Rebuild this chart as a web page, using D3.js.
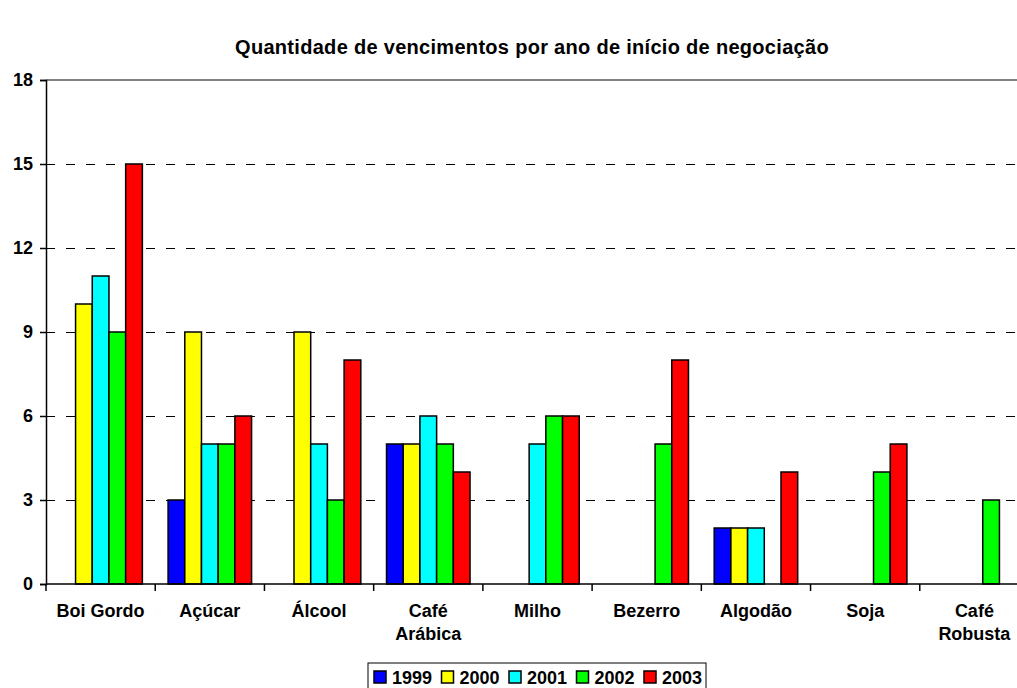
<!DOCTYPE html>
<html>
<head>
<meta charset="utf-8">
<script src="https://cdn.jsdelivr.net/npm/d3@7"></script>
<style>
  body { margin: 0; background: #fff; }
  svg { display: block; font-family: Arial, "Liberation Sans", sans-serif; }
</style>
</head>
<body>
<div id="chart"></div>
<script>
// data
const categories = ['Boi Gordo', 'Açúcar', 'Álcool', 'Café Arábica', 'Milho', 'Bezerro', 'Algodão', 'Soja', 'Café Robusta'];
const years = ['1999', '2000', '2001', '2002', '2003'];
const v1999 = [0, 3, 0, 5, 0, 0, 2, 0, 0];
const v2000 = [10, 9, 9, 5, 0, 0, 2, 0, 0];
const v2001 = [11, 5, 5, 6, 5, 0, 2, 0, 0];
const v2002 = [9, 5, 3, 5, 6, 5, 0, 4, 3];
const v2003 = [15, 6, 8, 4, 6, 8, 4, 5, 0];
const yTicks = [0, 3, 6, 9, 12, 15, 18];
const colors = ['#0000ff', '#ffff00', '#00ffff', '#00ff00', '#ff0000'];

const series = [v1999, v2000, v2001, v2002, v2003];

const width = 1017, height = 688;
const margin = { left: 46, top: 80 };
const plotW = 983, plotH = 504;  // plot runs past the right edge, as in the original

const svg = d3.select('#chart').append('svg')
    .attr('width', width)
    .attr('height', height);

// title
svg.append('text')
    .attr('x', 532)
    .attr('y', 54)
    .attr('text-anchor', 'middle')
    .style('font-size', '20px')
    .style('font-weight', 'bold')
    .style('letter-spacing', '0.3px')
    .text('Quantidade de vencimentos por ano de início de negociação');

const x0 = d3.scaleBand().domain(categories).range([0, plotW]).padding(0);
const x1 = d3.scaleBand().domain(years).range([0, x0.bandwidth()])
    .paddingInner(0).paddingOuter(0.77);
const y = d3.scaleLinear().domain([0, 18]).range([plotH, 0]);

const g = svg.append('g').attr('transform', `translate(${margin.left},${margin.top})`);

// gridlines
g.selectAll('line.grid')
    .data(yTicks.filter(t => t > 0 && t < 18))
    .enter().append('line')
    .attr('class', 'grid')
    .attr('x1', 0).attr('x2', plotW)
    .attr('y1', d => y(d) + 0.5).attr('y2', d => y(d) + 0.5)
    .attr('stroke', '#000')
    .attr('stroke-width', 1)
    .attr('stroke-dasharray', '9,11');

// top border of plot area
g.append('line')
    .attr('x1', 0).attr('x2', plotW)
    .attr('y1', y(18)).attr('y2', y(18))
    .attr('stroke', '#808080')
    .attr('stroke-width', 2);

// bars
const rows = [];
categories.forEach((c, i) => {
    years.forEach((yr, j) => {
        rows.push({ cat: c, year: yr, value: series[j][i], idx: j });
    });
});

g.selectAll('rect.bar')
    .data(rows.filter(d => d.value > 0))
    .enter().append('rect')
    .attr('class', 'bar')
    .attr('x', d => x0(d.cat) + x1(d.year))
    .attr('y', d => y(d.value))
    .attr('width', x1.bandwidth())
    .attr('height', d => y(0) - y(d.value))
    .attr('fill', d => colors[d.idx])
    .attr('stroke', '#000')
    .attr('stroke-width', 1.5);

// y axis
const yAxis = g.append('g')
    .call(d3.axisLeft(y).tickValues(yTicks).tickSize(6).tickPadding(7));
yAxis.select('.domain').attr('stroke', '#000').attr('stroke-width', 1.5);
yAxis.selectAll('.tick line').attr('stroke', '#000').attr('stroke-width', 1.5);
yAxis.selectAll('.tick text')
    .style('font-size', '18px')
    .style('font-weight', 'bold')
    .style('font-family', 'Arial, "Liberation Sans", sans-serif')
    .attr('fill', '#000');

// x axis line and ticks between categories
g.append('line')
    .attr('x1', 0).attr('x2', plotW)
    .attr('y1', plotH).attr('y2', plotH)
    .attr('stroke', '#000')
    .attr('stroke-width', 1.5);

g.selectAll('line.xtick')
    .data(categories.slice(1).concat(['end']))
    .enter().append('line')
    .attr('class', 'xtick')
    .attr('x1', (d, i) => x0.step() * (i + 1))
    .attr('x2', (d, i) => x0.step() * (i + 1))
    .attr('y1', plotH).attr('y2', plotH + 7)
    .attr('stroke', '#000')
    .attr('stroke-width', 1.5);

g.append('line')
    .attr('x1', 0).attr('x2', 0)
    .attr('y1', plotH).attr('y2', plotH + 7)
    .attr('stroke', '#000')
    .attr('stroke-width', 1.5);

// category labels, wrapped like the original
const wrapped = { 'Café Arábica': ['Café', 'Arábica'], 'Café Robusta': ['Café', 'Robusta'] };
const labels = g.selectAll('text.cat')
    .data(categories)
    .enter().append('text')
    .attr('class', 'cat')
    .attr('text-anchor', 'middle')
    .attr('x', d => x0(d) + x0.bandwidth() / 2)
    .attr('y', plotH + 33)
    .style('font-size', '18px')
    .style('font-weight', 'bold');

labels.each(function(d) {
    const lines = wrapped[d] || [d];
    const t = d3.select(this);
    lines.forEach((ln, k) => {
        t.append('tspan')
            .attr('x', x0(d) + x0.bandwidth() / 2)
            .attr('dy', k === 0 ? 0 : 23)
            .text(ln);
    });
});

// legend
const legend = svg.append('g').attr('transform', 'translate(368,663)');
legend.append('rect')
    .attr('x', 0).attr('y', 0)
    .attr('width', 338).attr('height', 40)
    .attr('fill', '#fff')
    .attr('stroke', '#000')
    .attr('stroke-width', 1);

const item = legend.selectAll('g.item')
    .data(years)
    .enter().append('g')
    .attr('class', 'item')
    .attr('transform', (d, i) => `translate(${6 + i * 67.5},8)`);

item.append('rect')
    .attr('width', 12).attr('height', 12)
    .attr('fill', (d, i) => colors[i])
    .attr('stroke', '#000')
    .attr('stroke-width', 1.5);

item.append('text')
    .attr('x', 18)
    .attr('y', 13)
    .style('font-size', '18px')
    .style('font-weight', 'bold')
    .text(d => d);
</script>
</body>
</html>
